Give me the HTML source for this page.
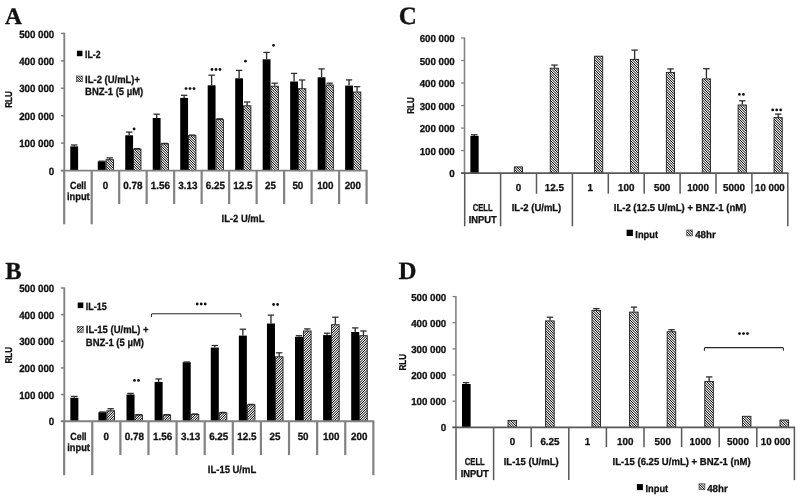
<!DOCTYPE html>
<html><head><meta charset="utf-8"><title>Figure</title>
<style>
html,body{margin:0;padding:0;background:#fff;}
body{width:800px;height:498px;overflow:hidden;}
svg{display:block;}
svg text{font-family:"Liberation Sans",sans-serif;font-weight:bold;fill:#111;stroke:#111;stroke-width:0.3px;text-rendering:geometricPrecision;}
</style></head><body>
<svg width="800" height="498" viewBox="0 0 800 498">
<defs>
<pattern id="hA" width="5" height="5" patternUnits="userSpaceOnUse">
<rect width="5" height="5" fill="#f2f2f2"/>
<path d="M-8.50 -1 L-1.50 6 M-6.00 -1 L1.00 6 M-3.50 -1 L3.50 6 M-1.00 -1 L6.00 6 M1.50 -1 L8.50 6 M4.00 -1 L11.00 6 M6.50 -1 L13.50 6" stroke="#000" stroke-width="1.0"/>
</pattern>
<pattern id="hB" width="5" height="5" patternUnits="userSpaceOnUse">
<rect width="5" height="5" fill="#f2f2f2"/>
<path d="M-8.50 6 L-1.50 -1 M-6.00 6 L1.00 -1 M-3.50 6 L3.50 -1 M-1.00 6 L6.00 -1 M1.50 6 L8.50 -1 M4.00 6 L11.00 -1 M6.50 6 L13.50 -1" stroke="#000" stroke-width="1.0"/>
</pattern>
</defs>
<rect width="800" height="498" fill="#fff"/>
<text x="5.0" y="24.0" style="font-family:'Liberation Serif',serif" font-size="23.5" stroke-width="0.8">A</text>
<rect x="70.27" y="146.40" width="7.85" height="24.20" fill="#000"/>
<line x1="74.20" y1="145.00" x2="74.20" y2="146.40" stroke="#2e2e2e" stroke-width="1.35"/>
<line x1="71.00" y1="145.00" x2="77.40" y2="145.00" stroke="#2e2e2e" stroke-width="1.3"/>
<rect x="97.76" y="161.40" width="7.85" height="9.20" fill="#000"/>
<line x1="98.48" y1="161.20" x2="104.88" y2="161.20" stroke="#2e2e2e" stroke-width="1.3"/>
<rect x="106.01" y="159.70" width="7.45" height="10.90" fill="url(#hA)" stroke="#1c1c1c" stroke-width="0.9"/>
<line x1="109.74" y1="157.90" x2="109.74" y2="159.30" stroke="#2e2e2e" stroke-width="1.35"/>
<line x1="106.54" y1="157.90" x2="112.94" y2="157.90" stroke="#2e2e2e" stroke-width="1.3"/>
<rect x="125.24" y="135.30" width="7.85" height="35.30" fill="#000"/>
<line x1="129.17" y1="132.10" x2="129.17" y2="135.30" stroke="#2e2e2e" stroke-width="1.35"/>
<line x1="125.97" y1="132.10" x2="132.37" y2="132.10" stroke="#2e2e2e" stroke-width="1.3"/>
<rect x="133.50" y="149.20" width="7.45" height="21.40" fill="url(#hA)" stroke="#1c1c1c" stroke-width="0.9"/>
<line x1="134.02" y1="148.60" x2="140.42" y2="148.60" stroke="#2e2e2e" stroke-width="1.3"/>
<rect x="152.73" y="118.00" width="7.85" height="52.60" fill="#000"/>
<line x1="156.65" y1="114.20" x2="156.65" y2="118.00" stroke="#2e2e2e" stroke-width="1.35"/>
<line x1="153.45" y1="114.20" x2="159.85" y2="114.20" stroke="#2e2e2e" stroke-width="1.3"/>
<rect x="160.98" y="143.80" width="7.45" height="26.80" fill="url(#hA)" stroke="#1c1c1c" stroke-width="0.9"/>
<line x1="161.51" y1="143.40" x2="167.91" y2="143.40" stroke="#2e2e2e" stroke-width="1.3"/>
<rect x="180.21" y="97.90" width="7.85" height="72.70" fill="#000"/>
<line x1="184.14" y1="95.30" x2="184.14" y2="97.90" stroke="#2e2e2e" stroke-width="1.35"/>
<line x1="180.94" y1="95.30" x2="187.34" y2="95.30" stroke="#2e2e2e" stroke-width="1.3"/>
<rect x="188.47" y="135.70" width="7.45" height="34.90" fill="url(#hA)" stroke="#1c1c1c" stroke-width="0.9"/>
<line x1="188.99" y1="135.10" x2="195.39" y2="135.10" stroke="#2e2e2e" stroke-width="1.3"/>
<rect x="207.70" y="85.30" width="7.85" height="85.30" fill="#000"/>
<line x1="211.62" y1="75.20" x2="211.62" y2="85.30" stroke="#2e2e2e" stroke-width="1.35"/>
<line x1="208.42" y1="75.20" x2="214.82" y2="75.20" stroke="#2e2e2e" stroke-width="1.3"/>
<rect x="215.95" y="119.60" width="7.45" height="51.00" fill="url(#hA)" stroke="#1c1c1c" stroke-width="0.9"/>
<line x1="216.48" y1="118.80" x2="222.88" y2="118.80" stroke="#2e2e2e" stroke-width="1.3"/>
<rect x="235.18" y="78.30" width="7.85" height="92.30" fill="#000"/>
<line x1="239.11" y1="70.40" x2="239.11" y2="78.30" stroke="#2e2e2e" stroke-width="1.35"/>
<line x1="235.91" y1="70.40" x2="242.31" y2="70.40" stroke="#2e2e2e" stroke-width="1.3"/>
<rect x="243.44" y="105.80" width="7.45" height="64.80" fill="url(#hA)" stroke="#1c1c1c" stroke-width="0.9"/>
<line x1="247.16" y1="102.00" x2="247.16" y2="105.40" stroke="#2e2e2e" stroke-width="1.35"/>
<line x1="243.96" y1="102.00" x2="250.36" y2="102.00" stroke="#2e2e2e" stroke-width="1.3"/>
<rect x="262.67" y="59.30" width="7.85" height="111.30" fill="#000"/>
<line x1="266.59" y1="52.40" x2="266.59" y2="59.30" stroke="#2e2e2e" stroke-width="1.35"/>
<line x1="263.39" y1="52.40" x2="269.79" y2="52.40" stroke="#2e2e2e" stroke-width="1.3"/>
<rect x="270.92" y="86.20" width="7.45" height="84.40" fill="url(#hA)" stroke="#1c1c1c" stroke-width="0.9"/>
<line x1="274.65" y1="83.20" x2="274.65" y2="85.80" stroke="#2e2e2e" stroke-width="1.35"/>
<line x1="271.45" y1="83.20" x2="277.85" y2="83.20" stroke="#2e2e2e" stroke-width="1.3"/>
<rect x="290.15" y="81.50" width="7.85" height="89.10" fill="#000"/>
<line x1="294.08" y1="73.40" x2="294.08" y2="81.50" stroke="#2e2e2e" stroke-width="1.35"/>
<line x1="290.88" y1="73.40" x2="297.28" y2="73.40" stroke="#2e2e2e" stroke-width="1.3"/>
<rect x="298.40" y="88.70" width="7.45" height="81.90" fill="url(#hA)" stroke="#1c1c1c" stroke-width="0.9"/>
<line x1="302.13" y1="80.00" x2="302.13" y2="88.30" stroke="#2e2e2e" stroke-width="1.35"/>
<line x1="298.93" y1="80.00" x2="305.33" y2="80.00" stroke="#2e2e2e" stroke-width="1.3"/>
<rect x="317.64" y="77.30" width="7.85" height="93.30" fill="#000"/>
<line x1="321.56" y1="68.90" x2="321.56" y2="77.30" stroke="#2e2e2e" stroke-width="1.35"/>
<line x1="318.36" y1="68.90" x2="324.76" y2="68.90" stroke="#2e2e2e" stroke-width="1.3"/>
<rect x="325.89" y="85.00" width="7.45" height="85.60" fill="url(#hA)" stroke="#1c1c1c" stroke-width="0.9"/>
<line x1="329.62" y1="83.20" x2="329.62" y2="84.60" stroke="#2e2e2e" stroke-width="1.35"/>
<line x1="326.42" y1="83.20" x2="332.82" y2="83.20" stroke="#2e2e2e" stroke-width="1.3"/>
<rect x="345.12" y="85.60" width="7.85" height="85.00" fill="#000"/>
<line x1="349.05" y1="79.90" x2="349.05" y2="85.60" stroke="#2e2e2e" stroke-width="1.35"/>
<line x1="345.85" y1="79.90" x2="352.25" y2="79.90" stroke="#2e2e2e" stroke-width="1.3"/>
<rect x="353.37" y="92.00" width="7.45" height="78.60" fill="url(#hA)" stroke="#1c1c1c" stroke-width="0.9"/>
<line x1="357.10" y1="86.70" x2="357.10" y2="91.60" stroke="#2e2e2e" stroke-width="1.35"/>
<line x1="353.90" y1="86.70" x2="360.30" y2="86.70" stroke="#2e2e2e" stroke-width="1.3"/>
<line x1="64.30" y1="32.80" x2="64.30" y2="170.60" stroke="#828282" stroke-width="1.9"/>
<line x1="60.90" y1="33.40" x2="64.30" y2="33.40" stroke="#828282" stroke-width="1.5"/>
<text x="54.30" y="37.58" font-size="10.43" text-anchor="end" textLength="35.17" lengthAdjust="spacingAndGlyphs">500 000</text>
<line x1="60.90" y1="60.84" x2="64.30" y2="60.84" stroke="#828282" stroke-width="1.5"/>
<text x="54.30" y="65.02" font-size="10.43" text-anchor="end" textLength="35.17" lengthAdjust="spacingAndGlyphs">400 000</text>
<line x1="60.90" y1="88.28" x2="64.30" y2="88.28" stroke="#828282" stroke-width="1.5"/>
<text x="54.30" y="92.46" font-size="10.43" text-anchor="end" textLength="35.17" lengthAdjust="spacingAndGlyphs">300 000</text>
<line x1="60.90" y1="115.72" x2="64.30" y2="115.72" stroke="#828282" stroke-width="1.5"/>
<text x="54.30" y="119.90" font-size="10.43" text-anchor="end" textLength="35.17" lengthAdjust="spacingAndGlyphs">200 000</text>
<line x1="60.90" y1="143.16" x2="64.30" y2="143.16" stroke="#828282" stroke-width="1.5"/>
<text x="54.30" y="147.34" font-size="10.43" text-anchor="end" textLength="35.17" lengthAdjust="spacingAndGlyphs">100 000</text>
<line x1="60.90" y1="170.60" x2="64.30" y2="170.60" stroke="#828282" stroke-width="1.5"/>
<text x="54.30" y="174.78" font-size="10.43" text-anchor="end" textLength="5.46" lengthAdjust="spacingAndGlyphs">0</text>
<line x1="60.90" y1="170.60" x2="367.49" y2="170.60" stroke="#828282" stroke-width="1.9"/>
<line x1="64.20" y1="170.60" x2="64.20" y2="224.30" stroke="#828282" stroke-width="2.2"/>
<line x1="91.69" y1="170.60" x2="91.69" y2="224.30" stroke="#828282" stroke-width="2.2"/>
<line x1="119.18" y1="170.60" x2="119.18" y2="204.10" stroke="#828282" stroke-width="2.2"/>
<line x1="146.67" y1="170.60" x2="146.67" y2="204.10" stroke="#828282" stroke-width="2.2"/>
<line x1="174.16" y1="170.60" x2="174.16" y2="204.10" stroke="#828282" stroke-width="2.2"/>
<line x1="201.65" y1="170.60" x2="201.65" y2="204.10" stroke="#828282" stroke-width="2.2"/>
<line x1="229.14" y1="170.60" x2="229.14" y2="204.10" stroke="#828282" stroke-width="2.2"/>
<line x1="256.63" y1="170.60" x2="256.63" y2="204.10" stroke="#828282" stroke-width="2.2"/>
<line x1="284.12" y1="170.60" x2="284.12" y2="204.10" stroke="#828282" stroke-width="2.2"/>
<line x1="311.61" y1="170.60" x2="311.61" y2="204.10" stroke="#828282" stroke-width="2.2"/>
<line x1="339.10" y1="170.60" x2="339.10" y2="204.10" stroke="#828282" stroke-width="2.2"/>
<line x1="366.59" y1="170.60" x2="366.59" y2="204.10" stroke="#828282" stroke-width="2.2"/>
<text x="78.15" y="188.88" font-size="10.43" text-anchor="middle" textLength="16.40" lengthAdjust="spacingAndGlyphs">Cell</text>
<text x="78.35" y="200.48" font-size="10.43" text-anchor="middle" textLength="22.76" lengthAdjust="spacingAndGlyphs">input</text>
<text x="105.44" y="188.88" font-size="10.43" text-anchor="middle" textLength="5.46" lengthAdjust="spacingAndGlyphs">0</text>
<text x="132.93" y="188.88" font-size="10.43" text-anchor="middle" textLength="19.24" lengthAdjust="spacingAndGlyphs">0.78</text>
<text x="160.41" y="188.88" font-size="10.43" text-anchor="middle" textLength="19.24" lengthAdjust="spacingAndGlyphs">1.56</text>
<text x="187.91" y="188.88" font-size="10.43" text-anchor="middle" textLength="19.24" lengthAdjust="spacingAndGlyphs">3.13</text>
<text x="215.39" y="188.88" font-size="10.43" text-anchor="middle" textLength="19.24" lengthAdjust="spacingAndGlyphs">6.25</text>
<text x="242.88" y="188.88" font-size="10.43" text-anchor="middle" textLength="19.24" lengthAdjust="spacingAndGlyphs">12.5</text>
<text x="270.38" y="188.88" font-size="10.43" text-anchor="middle" textLength="10.91" lengthAdjust="spacingAndGlyphs">25</text>
<text x="297.87" y="188.88" font-size="10.43" text-anchor="middle" textLength="10.91" lengthAdjust="spacingAndGlyphs">50</text>
<text x="325.35" y="188.88" font-size="10.43" text-anchor="middle" textLength="16.37" lengthAdjust="spacingAndGlyphs">100</text>
<text x="352.84" y="188.88" font-size="10.43" text-anchor="middle" textLength="16.37" lengthAdjust="spacingAndGlyphs">200</text>
<text x="243.00" y="222.18" font-size="10.43" text-anchor="middle" textLength="42.89" lengthAdjust="spacingAndGlyphs">IL-2 U/mL</text>
<text x="8.40" y="102.72" font-size="9.97" text-anchor="middle" textLength="16.62" lengthAdjust="spacingAndGlyphs" transform="rotate(-90 8.40 99.50)">RLU</text>
<rect x="76.90" y="50.70" width="5.50" height="5.50" fill="#000"/>
<text x="85.10" y="57.88" font-size="10.43" text-anchor="start" textLength="15.49" lengthAdjust="spacingAndGlyphs">IL-2</text>
<rect x="76.60" y="76.00" width="5.70" height="5.70" fill="url(#hA)" stroke="#444" stroke-width="0.7"/>
<text x="85.10" y="82.68" font-size="10.43" text-anchor="start" textLength="54.96" lengthAdjust="spacingAndGlyphs">IL-2 (U/mL)+</text>
<text x="85.10" y="94.78" font-size="10.43" text-anchor="start" textLength="58.15" lengthAdjust="spacingAndGlyphs">BNZ-1 (5 µM)</text>
<circle cx="134.10" cy="129.00" r="1.4" fill="#111"/>
<circle cx="186.00" cy="88.60" r="1.4" fill="#111"/>
<circle cx="190.00" cy="88.60" r="1.4" fill="#111"/>
<circle cx="194.00" cy="88.60" r="1.4" fill="#111"/>
<circle cx="212.00" cy="69.50" r="1.4" fill="#111"/>
<circle cx="216.00" cy="69.50" r="1.4" fill="#111"/>
<circle cx="220.00" cy="69.50" r="1.4" fill="#111"/>
<circle cx="245.40" cy="61.20" r="1.4" fill="#111"/>
<circle cx="273.50" cy="45.30" r="1.4" fill="#111"/>
<text x="5.3" y="278.8" style="font-family:'Liberation Serif',serif" font-size="24.5" stroke-width="0.8">B</text>
<rect x="70.34" y="397.80" width="8.03" height="23.40" fill="#000"/>
<line x1="74.36" y1="396.40" x2="74.36" y2="397.80" stroke="#2e2e2e" stroke-width="1.35"/>
<line x1="71.16" y1="396.40" x2="77.56" y2="396.40" stroke="#2e2e2e" stroke-width="1.3"/>
<rect x="98.43" y="412.20" width="8.03" height="9.00" fill="#000"/>
<line x1="99.24" y1="412.00" x2="105.64" y2="412.00" stroke="#2e2e2e" stroke-width="1.3"/>
<rect x="106.86" y="410.80" width="7.63" height="10.40" fill="url(#hB)" stroke="#1c1c1c" stroke-width="0.9"/>
<line x1="110.68" y1="408.70" x2="110.68" y2="410.40" stroke="#2e2e2e" stroke-width="1.35"/>
<line x1="107.48" y1="408.70" x2="113.88" y2="408.70" stroke="#2e2e2e" stroke-width="1.3"/>
<rect x="126.51" y="394.50" width="8.03" height="26.70" fill="#000"/>
<line x1="130.53" y1="393.40" x2="130.53" y2="394.50" stroke="#2e2e2e" stroke-width="1.35"/>
<line x1="127.33" y1="393.40" x2="133.73" y2="393.40" stroke="#2e2e2e" stroke-width="1.3"/>
<rect x="134.95" y="415.00" width="7.63" height="6.20" fill="url(#hB)" stroke="#1c1c1c" stroke-width="0.9"/>
<line x1="135.56" y1="414.60" x2="141.96" y2="414.60" stroke="#2e2e2e" stroke-width="1.3"/>
<rect x="154.60" y="381.90" width="8.03" height="39.30" fill="#000"/>
<line x1="158.61" y1="379.00" x2="158.61" y2="381.90" stroke="#2e2e2e" stroke-width="1.35"/>
<line x1="155.41" y1="379.00" x2="161.81" y2="379.00" stroke="#2e2e2e" stroke-width="1.3"/>
<rect x="163.03" y="415.00" width="7.63" height="6.20" fill="url(#hB)" stroke="#1c1c1c" stroke-width="0.9"/>
<line x1="163.65" y1="414.60" x2="170.05" y2="414.60" stroke="#2e2e2e" stroke-width="1.3"/>
<rect x="182.68" y="362.20" width="8.03" height="59.00" fill="#000"/>
<line x1="183.50" y1="362.00" x2="189.90" y2="362.00" stroke="#2e2e2e" stroke-width="1.3"/>
<rect x="191.12" y="414.40" width="7.63" height="6.80" fill="url(#hB)" stroke="#1c1c1c" stroke-width="0.9"/>
<line x1="191.73" y1="414.00" x2="198.13" y2="414.00" stroke="#2e2e2e" stroke-width="1.3"/>
<rect x="210.77" y="347.60" width="8.03" height="73.60" fill="#000"/>
<line x1="214.78" y1="345.50" x2="214.78" y2="347.60" stroke="#2e2e2e" stroke-width="1.35"/>
<line x1="211.58" y1="345.50" x2="217.98" y2="345.50" stroke="#2e2e2e" stroke-width="1.3"/>
<rect x="219.20" y="412.90" width="7.63" height="8.30" fill="url(#hB)" stroke="#1c1c1c" stroke-width="0.9"/>
<line x1="219.82" y1="412.40" x2="226.22" y2="412.40" stroke="#2e2e2e" stroke-width="1.3"/>
<rect x="238.85" y="335.60" width="8.03" height="85.60" fill="#000"/>
<line x1="242.87" y1="329.20" x2="242.87" y2="335.60" stroke="#2e2e2e" stroke-width="1.35"/>
<line x1="239.67" y1="329.20" x2="246.07" y2="329.20" stroke="#2e2e2e" stroke-width="1.3"/>
<rect x="247.29" y="404.80" width="7.63" height="16.40" fill="url(#hB)" stroke="#1c1c1c" stroke-width="0.9"/>
<line x1="247.90" y1="404.40" x2="254.30" y2="404.40" stroke="#2e2e2e" stroke-width="1.3"/>
<rect x="266.94" y="323.50" width="8.03" height="97.70" fill="#000"/>
<line x1="270.95" y1="315.10" x2="270.95" y2="323.50" stroke="#2e2e2e" stroke-width="1.35"/>
<line x1="267.75" y1="315.10" x2="274.15" y2="315.10" stroke="#2e2e2e" stroke-width="1.3"/>
<rect x="275.37" y="356.80" width="7.63" height="64.40" fill="url(#hB)" stroke="#1c1c1c" stroke-width="0.9"/>
<line x1="279.19" y1="352.80" x2="279.19" y2="356.40" stroke="#2e2e2e" stroke-width="1.35"/>
<line x1="275.99" y1="352.80" x2="282.39" y2="352.80" stroke="#2e2e2e" stroke-width="1.3"/>
<rect x="295.02" y="336.80" width="8.03" height="84.40" fill="#000"/>
<line x1="299.04" y1="335.70" x2="299.04" y2="336.80" stroke="#2e2e2e" stroke-width="1.35"/>
<line x1="295.84" y1="335.70" x2="302.24" y2="335.70" stroke="#2e2e2e" stroke-width="1.3"/>
<rect x="303.46" y="331.00" width="7.63" height="90.20" fill="url(#hB)" stroke="#1c1c1c" stroke-width="0.9"/>
<line x1="307.27" y1="328.90" x2="307.27" y2="330.60" stroke="#2e2e2e" stroke-width="1.35"/>
<line x1="304.07" y1="328.90" x2="310.47" y2="328.90" stroke="#2e2e2e" stroke-width="1.3"/>
<rect x="323.11" y="335.10" width="8.03" height="86.10" fill="#000"/>
<line x1="327.12" y1="333.20" x2="327.12" y2="335.10" stroke="#2e2e2e" stroke-width="1.35"/>
<line x1="323.92" y1="333.20" x2="330.32" y2="333.20" stroke="#2e2e2e" stroke-width="1.3"/>
<rect x="331.54" y="324.70" width="7.63" height="96.50" fill="url(#hB)" stroke="#1c1c1c" stroke-width="0.9"/>
<line x1="335.36" y1="317.20" x2="335.36" y2="324.30" stroke="#2e2e2e" stroke-width="1.35"/>
<line x1="332.16" y1="317.20" x2="338.56" y2="317.20" stroke="#2e2e2e" stroke-width="1.3"/>
<rect x="351.19" y="332.00" width="8.03" height="89.20" fill="#000"/>
<line x1="355.21" y1="327.90" x2="355.21" y2="332.00" stroke="#2e2e2e" stroke-width="1.35"/>
<line x1="352.01" y1="327.90" x2="358.41" y2="327.90" stroke="#2e2e2e" stroke-width="1.3"/>
<rect x="359.62" y="335.70" width="7.63" height="85.50" fill="url(#hB)" stroke="#1c1c1c" stroke-width="0.9"/>
<line x1="363.44" y1="331.00" x2="363.44" y2="335.30" stroke="#2e2e2e" stroke-width="1.35"/>
<line x1="360.24" y1="331.00" x2="366.64" y2="331.00" stroke="#2e2e2e" stroke-width="1.3"/>
<line x1="64.30" y1="287.40" x2="64.30" y2="421.20" stroke="#828282" stroke-width="1.9"/>
<line x1="60.90" y1="288.00" x2="64.30" y2="288.00" stroke="#828282" stroke-width="1.5"/>
<text x="54.30" y="292.18" font-size="10.43" text-anchor="end" textLength="35.17" lengthAdjust="spacingAndGlyphs">500 000</text>
<line x1="60.90" y1="314.64" x2="64.30" y2="314.64" stroke="#828282" stroke-width="1.5"/>
<text x="54.30" y="318.82" font-size="10.43" text-anchor="end" textLength="35.17" lengthAdjust="spacingAndGlyphs">400 000</text>
<line x1="60.90" y1="341.28" x2="64.30" y2="341.28" stroke="#828282" stroke-width="1.5"/>
<text x="54.30" y="345.46" font-size="10.43" text-anchor="end" textLength="35.17" lengthAdjust="spacingAndGlyphs">300 000</text>
<line x1="60.90" y1="367.92" x2="64.30" y2="367.92" stroke="#828282" stroke-width="1.5"/>
<text x="54.30" y="372.10" font-size="10.43" text-anchor="end" textLength="35.17" lengthAdjust="spacingAndGlyphs">200 000</text>
<line x1="60.90" y1="394.56" x2="64.30" y2="394.56" stroke="#828282" stroke-width="1.5"/>
<text x="54.30" y="398.74" font-size="10.43" text-anchor="end" textLength="35.17" lengthAdjust="spacingAndGlyphs">100 000</text>
<line x1="60.90" y1="421.20" x2="64.30" y2="421.20" stroke="#828282" stroke-width="1.5"/>
<text x="54.30" y="425.38" font-size="10.43" text-anchor="end" textLength="5.46" lengthAdjust="spacingAndGlyphs">0</text>
<line x1="60.90" y1="421.20" x2="374.26" y2="421.20" stroke="#828282" stroke-width="1.9"/>
<line x1="64.15" y1="421.20" x2="64.15" y2="475.20" stroke="#828282" stroke-width="2.2"/>
<line x1="92.26" y1="421.20" x2="92.26" y2="475.20" stroke="#828282" stroke-width="2.2"/>
<line x1="120.37" y1="421.20" x2="120.37" y2="455.10" stroke="#828282" stroke-width="2.2"/>
<line x1="148.48" y1="421.20" x2="148.48" y2="455.10" stroke="#828282" stroke-width="2.2"/>
<line x1="176.59" y1="421.20" x2="176.59" y2="455.10" stroke="#828282" stroke-width="2.2"/>
<line x1="204.70" y1="421.20" x2="204.70" y2="455.10" stroke="#828282" stroke-width="2.2"/>
<line x1="232.81" y1="421.20" x2="232.81" y2="455.10" stroke="#828282" stroke-width="2.2"/>
<line x1="260.92" y1="421.20" x2="260.92" y2="455.10" stroke="#828282" stroke-width="2.2"/>
<line x1="289.03" y1="421.20" x2="289.03" y2="455.10" stroke="#828282" stroke-width="2.2"/>
<line x1="317.14" y1="421.20" x2="317.14" y2="455.10" stroke="#828282" stroke-width="2.2"/>
<line x1="345.25" y1="421.20" x2="345.25" y2="455.10" stroke="#828282" stroke-width="2.2"/>
<line x1="373.36" y1="421.20" x2="373.36" y2="475.20" stroke="#828282" stroke-width="2.2"/>
<text x="78.41" y="439.78" font-size="10.43" text-anchor="middle" textLength="16.40" lengthAdjust="spacingAndGlyphs">Cell</text>
<text x="78.61" y="451.48" font-size="10.43" text-anchor="middle" textLength="22.76" lengthAdjust="spacingAndGlyphs">input</text>
<text x="106.31" y="439.78" font-size="10.43" text-anchor="middle" textLength="5.46" lengthAdjust="spacingAndGlyphs">0</text>
<text x="134.43" y="439.78" font-size="10.43" text-anchor="middle" textLength="19.24" lengthAdjust="spacingAndGlyphs">0.78</text>
<text x="162.53" y="439.78" font-size="10.43" text-anchor="middle" textLength="19.24" lengthAdjust="spacingAndGlyphs">1.56</text>
<text x="190.65" y="439.78" font-size="10.43" text-anchor="middle" textLength="19.24" lengthAdjust="spacingAndGlyphs">3.13</text>
<text x="218.75" y="439.78" font-size="10.43" text-anchor="middle" textLength="19.24" lengthAdjust="spacingAndGlyphs">6.25</text>
<text x="246.87" y="439.78" font-size="10.43" text-anchor="middle" textLength="19.24" lengthAdjust="spacingAndGlyphs">12.5</text>
<text x="274.98" y="439.78" font-size="10.43" text-anchor="middle" textLength="10.91" lengthAdjust="spacingAndGlyphs">25</text>
<text x="303.09" y="439.78" font-size="10.43" text-anchor="middle" textLength="10.91" lengthAdjust="spacingAndGlyphs">50</text>
<text x="331.20" y="439.78" font-size="10.43" text-anchor="middle" textLength="16.37" lengthAdjust="spacingAndGlyphs">100</text>
<text x="359.30" y="439.78" font-size="10.43" text-anchor="middle" textLength="16.37" lengthAdjust="spacingAndGlyphs">200</text>
<text x="232.00" y="473.18" font-size="10.43" text-anchor="middle" textLength="48.34" lengthAdjust="spacingAndGlyphs">IL-15 U/mL</text>
<text x="8.40" y="358.52" font-size="9.97" text-anchor="middle" textLength="16.62" lengthAdjust="spacingAndGlyphs" transform="rotate(-90 8.40 355.30)">RLU</text>
<rect x="77.70" y="302.50" width="5.60" height="5.60" fill="#000"/>
<text x="85.80" y="309.88" font-size="10.43" text-anchor="start" textLength="20.95" lengthAdjust="spacingAndGlyphs">IL-15</text>
<rect x="77.40" y="326.50" width="5.80" height="5.80" fill="url(#hB)" stroke="#444" stroke-width="0.7"/>
<text x="85.80" y="333.38" font-size="10.43" text-anchor="start" textLength="62.85" lengthAdjust="spacingAndGlyphs">IL-15 (U/mL) +</text>
<text x="85.80" y="345.98" font-size="10.43" text-anchor="start" textLength="58.15" lengthAdjust="spacingAndGlyphs">BNZ-1 (5 µM)</text>
<circle cx="134.50" cy="380.40" r="1.4" fill="#111"/>
<circle cx="138.50" cy="380.40" r="1.4" fill="#111"/>
<circle cx="197.20" cy="304.00" r="1.4" fill="#111"/>
<circle cx="201.20" cy="304.00" r="1.4" fill="#111"/>
<circle cx="205.20" cy="304.00" r="1.4" fill="#111"/>
<circle cx="273.60" cy="304.50" r="1.4" fill="#111"/>
<circle cx="277.60" cy="304.50" r="1.4" fill="#111"/>
<path d="M151.40 317.00 V314.80 Q151.40 313.80 152.40 313.80 H239.90 Q240.90 313.80 240.90 314.80 V317.00" fill="none" stroke="#262626" stroke-width="1.05"/>
<text x="398.7" y="24.4" style="font-family:'Liberation Serif',serif" font-size="25" stroke-width="0.8">C</text>
<rect x="470.38" y="135.90" width="8.28" height="37.20" fill="#000"/>
<line x1="474.27" y1="134.80" x2="474.27" y2="135.90" stroke="#2e2e2e" stroke-width="1.35"/>
<line x1="471.07" y1="134.80" x2="477.47" y2="134.80" stroke="#2e2e2e" stroke-width="1.3"/>
<rect x="514.36" y="166.90" width="8.18" height="6.20" fill="url(#hA)" stroke="#1c1c1c" stroke-width="0.9"/>
<rect x="550.26" y="68.20" width="8.18" height="104.90" fill="url(#hA)" stroke="#1c1c1c" stroke-width="0.9"/>
<line x1="554.45" y1="65.10" x2="554.45" y2="67.80" stroke="#2e2e2e" stroke-width="1.35"/>
<line x1="551.25" y1="65.10" x2="557.65" y2="65.10" stroke="#2e2e2e" stroke-width="1.3"/>
<rect x="594.54" y="56.20" width="8.18" height="116.90" fill="url(#hA)" stroke="#1c1c1c" stroke-width="0.9"/>
<rect x="630.44" y="59.40" width="8.18" height="113.70" fill="url(#hA)" stroke="#1c1c1c" stroke-width="0.9"/>
<line x1="634.63" y1="50.10" x2="634.63" y2="59.00" stroke="#2e2e2e" stroke-width="1.35"/>
<line x1="631.43" y1="50.10" x2="637.83" y2="50.10" stroke="#2e2e2e" stroke-width="1.3"/>
<rect x="666.34" y="72.40" width="8.18" height="100.70" fill="url(#hA)" stroke="#1c1c1c" stroke-width="0.9"/>
<line x1="670.53" y1="68.90" x2="670.53" y2="72.00" stroke="#2e2e2e" stroke-width="1.35"/>
<line x1="667.33" y1="68.90" x2="673.73" y2="68.90" stroke="#2e2e2e" stroke-width="1.3"/>
<rect x="702.24" y="78.90" width="8.18" height="94.20" fill="url(#hA)" stroke="#1c1c1c" stroke-width="0.9"/>
<line x1="706.43" y1="68.70" x2="706.43" y2="78.50" stroke="#2e2e2e" stroke-width="1.35"/>
<line x1="703.23" y1="68.70" x2="709.63" y2="68.70" stroke="#2e2e2e" stroke-width="1.3"/>
<rect x="738.14" y="105.00" width="8.18" height="68.10" fill="url(#hA)" stroke="#1c1c1c" stroke-width="0.9"/>
<line x1="742.33" y1="100.80" x2="742.33" y2="104.60" stroke="#2e2e2e" stroke-width="1.35"/>
<line x1="739.13" y1="100.80" x2="745.53" y2="100.80" stroke="#2e2e2e" stroke-width="1.3"/>
<rect x="774.04" y="117.60" width="8.18" height="55.50" fill="url(#hA)" stroke="#1c1c1c" stroke-width="0.9"/>
<line x1="778.23" y1="114.10" x2="778.23" y2="117.20" stroke="#2e2e2e" stroke-width="1.35"/>
<line x1="775.03" y1="114.10" x2="781.43" y2="114.10" stroke="#2e2e2e" stroke-width="1.3"/>
<line x1="464.50" y1="37.40" x2="464.50" y2="173.10" stroke="#828282" stroke-width="1.6"/>
<line x1="461.10" y1="38.00" x2="464.50" y2="38.00" stroke="#828282" stroke-width="1.3"/>
<text x="454.80" y="42.07" font-size="10.11" text-anchor="end" textLength="35.17" lengthAdjust="spacingAndGlyphs">600 000</text>
<line x1="461.10" y1="60.52" x2="464.50" y2="60.52" stroke="#828282" stroke-width="1.3"/>
<text x="454.80" y="64.59" font-size="10.11" text-anchor="end" textLength="35.17" lengthAdjust="spacingAndGlyphs">500 000</text>
<line x1="461.10" y1="83.03" x2="464.50" y2="83.03" stroke="#828282" stroke-width="1.3"/>
<text x="454.80" y="87.10" font-size="10.11" text-anchor="end" textLength="35.17" lengthAdjust="spacingAndGlyphs">400 000</text>
<line x1="461.10" y1="105.55" x2="464.50" y2="105.55" stroke="#828282" stroke-width="1.3"/>
<text x="454.80" y="109.62" font-size="10.11" text-anchor="end" textLength="35.17" lengthAdjust="spacingAndGlyphs">300 000</text>
<line x1="461.10" y1="128.07" x2="464.50" y2="128.07" stroke="#828282" stroke-width="1.3"/>
<text x="454.80" y="132.14" font-size="10.11" text-anchor="end" textLength="35.17" lengthAdjust="spacingAndGlyphs">200 000</text>
<line x1="461.10" y1="150.58" x2="464.50" y2="150.58" stroke="#828282" stroke-width="1.3"/>
<text x="454.80" y="154.65" font-size="10.11" text-anchor="end" textLength="35.17" lengthAdjust="spacingAndGlyphs">100 000</text>
<line x1="461.10" y1="173.10" x2="464.50" y2="173.10" stroke="#828282" stroke-width="1.3"/>
<text x="454.80" y="177.17" font-size="10.11" text-anchor="end" textLength="5.46" lengthAdjust="spacingAndGlyphs">0</text>
<line x1="461.10" y1="173.10" x2="788.50" y2="173.10" stroke="#585858" stroke-width="1.7"/>
<line x1="464.70" y1="173.10" x2="464.70" y2="226.30" stroke="#585858" stroke-width="1.5"/>
<line x1="500.60" y1="173.10" x2="500.60" y2="226.30" stroke="#585858" stroke-width="1.5"/>
<line x1="536.50" y1="173.10" x2="536.50" y2="193.70" stroke="#585858" stroke-width="1.5"/>
<line x1="572.40" y1="173.10" x2="572.40" y2="226.30" stroke="#585858" stroke-width="1.5"/>
<line x1="608.30" y1="173.10" x2="608.30" y2="193.70" stroke="#585858" stroke-width="1.5"/>
<line x1="644.20" y1="173.10" x2="644.20" y2="193.70" stroke="#585858" stroke-width="1.5"/>
<line x1="680.10" y1="173.10" x2="680.10" y2="193.70" stroke="#585858" stroke-width="1.5"/>
<line x1="716.00" y1="173.10" x2="716.00" y2="193.70" stroke="#585858" stroke-width="1.5"/>
<line x1="751.90" y1="173.10" x2="751.90" y2="193.70" stroke="#585858" stroke-width="1.5"/>
<line x1="787.80" y1="173.10" x2="787.80" y2="226.30" stroke="#585858" stroke-width="1.5"/>
<text x="518.55" y="190.87" font-size="10.11" text-anchor="middle" textLength="5.46" lengthAdjust="spacingAndGlyphs">0</text>
<text x="554.45" y="190.87" font-size="10.11" text-anchor="middle" textLength="19.24" lengthAdjust="spacingAndGlyphs">12.5</text>
<text x="590.35" y="190.87" font-size="10.11" text-anchor="middle" textLength="5.46" lengthAdjust="spacingAndGlyphs">1</text>
<text x="626.25" y="190.87" font-size="10.11" text-anchor="middle" textLength="16.37" lengthAdjust="spacingAndGlyphs">100</text>
<text x="662.15" y="190.87" font-size="10.11" text-anchor="middle" textLength="16.37" lengthAdjust="spacingAndGlyphs">500</text>
<text x="698.05" y="190.87" font-size="10.11" text-anchor="middle" textLength="21.82" lengthAdjust="spacingAndGlyphs">1000</text>
<text x="733.95" y="190.87" font-size="10.11" text-anchor="middle" textLength="21.82" lengthAdjust="spacingAndGlyphs">5000</text>
<text x="769.85" y="190.87" font-size="10.11" text-anchor="middle" textLength="29.71" lengthAdjust="spacingAndGlyphs">10 000</text>
<text x="482.65" y="211.07" font-size="10.11" text-anchor="middle" textLength="20.05" lengthAdjust="spacingAndGlyphs">CELL</text>
<text x="482.65" y="223.27" font-size="10.11" text-anchor="middle" textLength="28.05" lengthAdjust="spacingAndGlyphs">INPUT</text>
<text x="536.50" y="211.07" font-size="10.11" text-anchor="middle" textLength="49.59" lengthAdjust="spacingAndGlyphs">IL-2 (U/mL)</text>
<text x="680.10" y="211.07" font-size="10.11" text-anchor="middle" textLength="132.66" lengthAdjust="spacingAndGlyphs">IL-2 (12.5 U/mL) + BNZ-1 (nM)</text>
<text x="411.20" y="108.62" font-size="9.97" text-anchor="middle" textLength="16.62" lengthAdjust="spacingAndGlyphs" transform="rotate(-90 411.20 105.40)">RLU</text>
<rect x="626.60" y="229.70" width="6.30" height="6.30" fill="#000"/>
<text x="635.30" y="237.57" font-size="10.11" text-anchor="start" textLength="22.73" lengthAdjust="spacingAndGlyphs">Input</text>
<rect x="686.70" y="230.00" width="5.90" height="5.90" fill="url(#hA)" stroke="#444" stroke-width="0.7"/>
<text x="695.20" y="237.57" font-size="10.11" text-anchor="start" textLength="20.51" lengthAdjust="spacingAndGlyphs">48hr</text>
<circle cx="739.40" cy="94.40" r="1.4" fill="#111"/>
<circle cx="743.40" cy="94.40" r="1.4" fill="#111"/>
<circle cx="772.70" cy="109.90" r="1.4" fill="#111"/>
<circle cx="776.70" cy="109.90" r="1.4" fill="#111"/>
<circle cx="780.70" cy="109.90" r="1.4" fill="#111"/>
<text x="398.4" y="278.8" style="font-family:'Liberation Serif',serif" font-size="25" stroke-width="0.8">D</text>
<rect x="461.97" y="384.00" width="8.66" height="43.30" fill="#000"/>
<line x1="466.04" y1="382.60" x2="466.04" y2="384.00" stroke="#2e2e2e" stroke-width="1.35"/>
<line x1="462.84" y1="382.60" x2="469.24" y2="382.60" stroke="#2e2e2e" stroke-width="1.3"/>
<rect x="508.02" y="420.40" width="8.56" height="6.90" fill="url(#hA)" stroke="#1c1c1c" stroke-width="0.9"/>
<rect x="545.62" y="320.90" width="8.56" height="106.40" fill="url(#hA)" stroke="#1c1c1c" stroke-width="0.9"/>
<line x1="550.00" y1="317.20" x2="550.00" y2="320.50" stroke="#2e2e2e" stroke-width="1.35"/>
<line x1="546.80" y1="317.20" x2="553.20" y2="317.20" stroke="#2e2e2e" stroke-width="1.3"/>
<rect x="591.98" y="310.40" width="8.56" height="116.90" fill="url(#hA)" stroke="#1c1c1c" stroke-width="0.9"/>
<line x1="596.36" y1="308.60" x2="596.36" y2="310.00" stroke="#2e2e2e" stroke-width="1.35"/>
<line x1="593.16" y1="308.60" x2="599.56" y2="308.60" stroke="#2e2e2e" stroke-width="1.3"/>
<rect x="629.58" y="312.10" width="8.56" height="115.20" fill="url(#hA)" stroke="#1c1c1c" stroke-width="0.9"/>
<line x1="633.96" y1="307.10" x2="633.96" y2="311.70" stroke="#2e2e2e" stroke-width="1.35"/>
<line x1="630.76" y1="307.10" x2="637.16" y2="307.10" stroke="#2e2e2e" stroke-width="1.3"/>
<rect x="667.18" y="331.70" width="8.56" height="95.60" fill="url(#hA)" stroke="#1c1c1c" stroke-width="0.9"/>
<line x1="671.56" y1="329.70" x2="671.56" y2="331.30" stroke="#2e2e2e" stroke-width="1.35"/>
<line x1="668.36" y1="329.70" x2="674.76" y2="329.70" stroke="#2e2e2e" stroke-width="1.3"/>
<rect x="704.78" y="381.40" width="8.56" height="45.90" fill="url(#hA)" stroke="#1c1c1c" stroke-width="0.9"/>
<line x1="709.16" y1="376.90" x2="709.16" y2="381.00" stroke="#2e2e2e" stroke-width="1.35"/>
<line x1="705.96" y1="376.90" x2="712.36" y2="376.90" stroke="#2e2e2e" stroke-width="1.3"/>
<rect x="742.38" y="416.30" width="8.56" height="11.00" fill="url(#hA)" stroke="#1c1c1c" stroke-width="0.9"/>
<rect x="779.98" y="420.00" width="8.56" height="7.30" fill="url(#hA)" stroke="#1c1c1c" stroke-width="0.9"/>
<line x1="455.90" y1="296.00" x2="455.90" y2="427.30" stroke="#828282" stroke-width="1.6"/>
<line x1="452.50" y1="296.60" x2="455.90" y2="296.60" stroke="#828282" stroke-width="1.3"/>
<text x="446.30" y="300.67" font-size="10.11" text-anchor="end" textLength="35.17" lengthAdjust="spacingAndGlyphs">500 000</text>
<line x1="452.50" y1="322.74" x2="455.90" y2="322.74" stroke="#828282" stroke-width="1.3"/>
<text x="446.30" y="326.81" font-size="10.11" text-anchor="end" textLength="35.17" lengthAdjust="spacingAndGlyphs">400 000</text>
<line x1="452.50" y1="348.88" x2="455.90" y2="348.88" stroke="#828282" stroke-width="1.3"/>
<text x="446.30" y="352.95" font-size="10.11" text-anchor="end" textLength="35.17" lengthAdjust="spacingAndGlyphs">300 000</text>
<line x1="452.50" y1="375.02" x2="455.90" y2="375.02" stroke="#828282" stroke-width="1.3"/>
<text x="446.30" y="379.09" font-size="10.11" text-anchor="end" textLength="35.17" lengthAdjust="spacingAndGlyphs">200 000</text>
<line x1="452.50" y1="401.16" x2="455.90" y2="401.16" stroke="#828282" stroke-width="1.3"/>
<text x="446.30" y="405.23" font-size="10.11" text-anchor="end" textLength="35.17" lengthAdjust="spacingAndGlyphs">100 000</text>
<line x1="452.50" y1="427.30" x2="455.90" y2="427.30" stroke="#828282" stroke-width="1.3"/>
<text x="446.30" y="431.37" font-size="10.11" text-anchor="end" textLength="5.46" lengthAdjust="spacingAndGlyphs">0</text>
<line x1="452.50" y1="427.30" x2="795.10" y2="427.30" stroke="#585858" stroke-width="1.7"/>
<line x1="456.00" y1="427.30" x2="456.00" y2="480.10" stroke="#585858" stroke-width="1.5"/>
<line x1="493.60" y1="427.30" x2="493.60" y2="480.10" stroke="#585858" stroke-width="1.5"/>
<line x1="531.20" y1="427.30" x2="531.20" y2="447.20" stroke="#585858" stroke-width="1.5"/>
<line x1="568.80" y1="427.30" x2="568.80" y2="480.10" stroke="#585858" stroke-width="1.5"/>
<line x1="606.40" y1="427.30" x2="606.40" y2="447.20" stroke="#585858" stroke-width="1.5"/>
<line x1="644.00" y1="427.30" x2="644.00" y2="447.20" stroke="#585858" stroke-width="1.5"/>
<line x1="681.60" y1="427.30" x2="681.60" y2="447.20" stroke="#585858" stroke-width="1.5"/>
<line x1="719.20" y1="427.30" x2="719.20" y2="447.20" stroke="#585858" stroke-width="1.5"/>
<line x1="756.80" y1="427.30" x2="756.80" y2="447.20" stroke="#585858" stroke-width="1.5"/>
<line x1="794.40" y1="427.30" x2="794.40" y2="480.10" stroke="#585858" stroke-width="1.5"/>
<text x="512.40" y="444.77" font-size="10.11" text-anchor="middle" textLength="5.46" lengthAdjust="spacingAndGlyphs">0</text>
<text x="550.00" y="444.77" font-size="10.11" text-anchor="middle" textLength="19.24" lengthAdjust="spacingAndGlyphs">6.25</text>
<text x="587.60" y="444.77" font-size="10.11" text-anchor="middle" textLength="5.46" lengthAdjust="spacingAndGlyphs">1</text>
<text x="625.20" y="444.77" font-size="10.11" text-anchor="middle" textLength="16.37" lengthAdjust="spacingAndGlyphs">100</text>
<text x="662.80" y="444.77" font-size="10.11" text-anchor="middle" textLength="16.37" lengthAdjust="spacingAndGlyphs">500</text>
<text x="700.40" y="444.77" font-size="10.11" text-anchor="middle" textLength="21.82" lengthAdjust="spacingAndGlyphs">1000</text>
<text x="738.00" y="444.77" font-size="10.11" text-anchor="middle" textLength="21.82" lengthAdjust="spacingAndGlyphs">5000</text>
<text x="775.60" y="444.77" font-size="10.11" text-anchor="middle" textLength="29.71" lengthAdjust="spacingAndGlyphs">10 000</text>
<text x="474.80" y="465.47" font-size="10.11" text-anchor="middle" textLength="20.05" lengthAdjust="spacingAndGlyphs">CELL</text>
<text x="474.80" y="477.27" font-size="10.11" text-anchor="middle" textLength="28.05" lengthAdjust="spacingAndGlyphs">INPUT</text>
<text x="531.20" y="465.47" font-size="10.11" text-anchor="middle" textLength="55.05" lengthAdjust="spacingAndGlyphs">IL-15 (U/mL)</text>
<text x="681.60" y="465.47" font-size="10.11" text-anchor="middle" textLength="138.12" lengthAdjust="spacingAndGlyphs">IL-15 (6.25 U/mL) + BNZ-1 (nM)</text>
<text x="402.60" y="365.52" font-size="9.97" text-anchor="middle" textLength="16.62" lengthAdjust="spacingAndGlyphs" transform="rotate(-90 402.60 362.30)">RLU</text>
<rect x="636.90" y="484.10" width="6.00" height="6.00" fill="#000"/>
<text x="645.50" y="491.87" font-size="10.11" text-anchor="start" textLength="22.73" lengthAdjust="spacingAndGlyphs">Input</text>
<rect x="699.00" y="483.80" width="5.90" height="5.90" fill="url(#hA)" stroke="#444" stroke-width="0.7"/>
<text x="707.20" y="491.87" font-size="10.11" text-anchor="start" textLength="20.51" lengthAdjust="spacingAndGlyphs">48hr</text>
<circle cx="739.50" cy="333.60" r="1.4" fill="#111"/>
<circle cx="743.50" cy="333.60" r="1.4" fill="#111"/>
<circle cx="747.50" cy="333.60" r="1.4" fill="#111"/>
<path d="M704.40 350.80 V348.60 Q704.40 347.60 705.40 347.60 H782.40 Q783.40 347.60 783.40 348.60 V350.80" fill="none" stroke="#262626" stroke-width="1.05"/>
</svg>
</body></html>
